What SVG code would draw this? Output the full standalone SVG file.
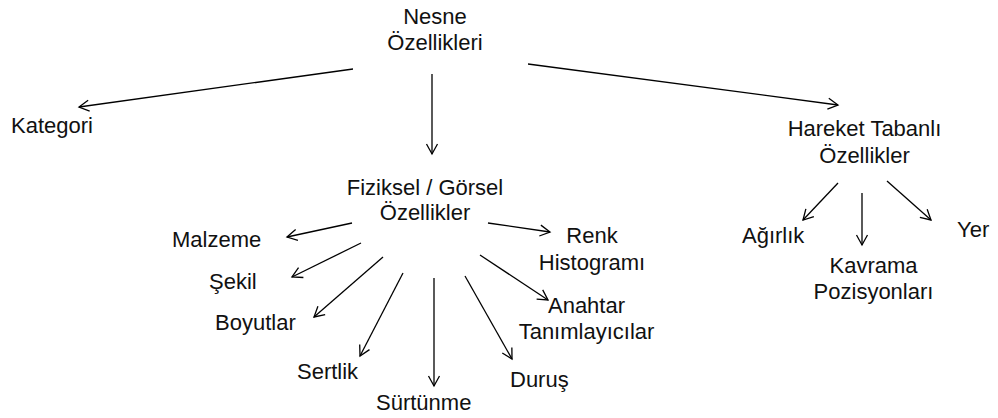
<svg xmlns="http://www.w3.org/2000/svg" width="998" height="418" viewBox="0 0 998 418">
<defs>
<style>
text{font-family:"Liberation Sans",Arial,sans-serif;font-size:22px;fill:#111}
.c{text-anchor:middle}
.e line{stroke:#000;stroke-width:1.3;fill:none;marker-end:url(#arr)}
</style>
<marker id="arr" markerWidth="14" markerHeight="14" refX="11" refY="7" orient="auto" markerUnits="userSpaceOnUse">
<path d="M1,1.5 L11,7 L1,12.5" fill="none" stroke="#000" stroke-width="1.3"/>
</marker>
</defs>
<rect width="998" height="418" fill="#fff"/>
<g id="connectors" class="e">
<line x1="353" y1="69" x2="79" y2="107"/>
<line x1="432" y1="74" x2="432" y2="154"/>
<line x1="528" y1="64" x2="838" y2="105"/>
<line x1="352" y1="223" x2="287" y2="237"/>
<line x1="361" y1="243" x2="292" y2="277"/>
<line x1="383" y1="257" x2="314" y2="317"/>
<line x1="403" y1="273" x2="360" y2="356"/>
<line x1="434" y1="278" x2="434" y2="386"/>
<line x1="465" y1="276" x2="512" y2="359"/>
<line x1="480" y1="255" x2="548" y2="300"/>
<line x1="488" y1="223" x2="550" y2="232"/>
<line x1="838" y1="183" x2="803" y2="220"/>
<line x1="862" y1="193" x2="862" y2="245"/>
<line x1="887" y1="181" x2="931" y2="220"/>
</g>
<g id="nesne"><text class="c" x="435" y="24">Nesne</text><text class="c" x="435" y="50">Özellikleri</text></g>
<g id="kategori"><text x="11" y="133">Kategori</text></g>
<g id="fiziksel"><text class="c" x="425" y="195">Fiziksel / Görsel</text><text class="c" x="425" y="220">Özellikler</text></g>
<g id="hareket"><text class="c" x="864.5" y="136">Hareket Tabanlı</text><text class="c" x="864.5" y="162.5">Özellikler</text></g>
<g id="malzeme"><text x="172" y="247">Malzeme</text></g>
<g id="sekil"><text x="209" y="288.5">Şekil</text></g>
<g id="boyutlar"><text x="215" y="330">Boyutlar</text></g>
<g id="sertlik"><text x="297" y="379">Sertlik</text></g>
<g id="surtunme"><text x="376" y="410">Sürtünme</text></g>
<g id="durus"><text x="510" y="387">Duruş</text></g>
<g id="anahtar"><text class="c" x="586.5" y="313">Anahtar</text><text class="c" x="586.5" y="339">Tanımlayıcılar</text></g>
<g id="renk"><text class="c" x="592" y="243">Renk</text><text class="c" x="592" y="270">Histogramı</text></g>
<g id="agirlik"><text x="742" y="243">Ağırlık</text></g>
<g id="kavrama"><text class="c" x="873.5" y="273">Kavrama</text><text class="c" x="873.5" y="298.5">Pozisyonları</text></g>
<g id="yer"><text x="957" y="237">Yer</text></g>
</svg>
